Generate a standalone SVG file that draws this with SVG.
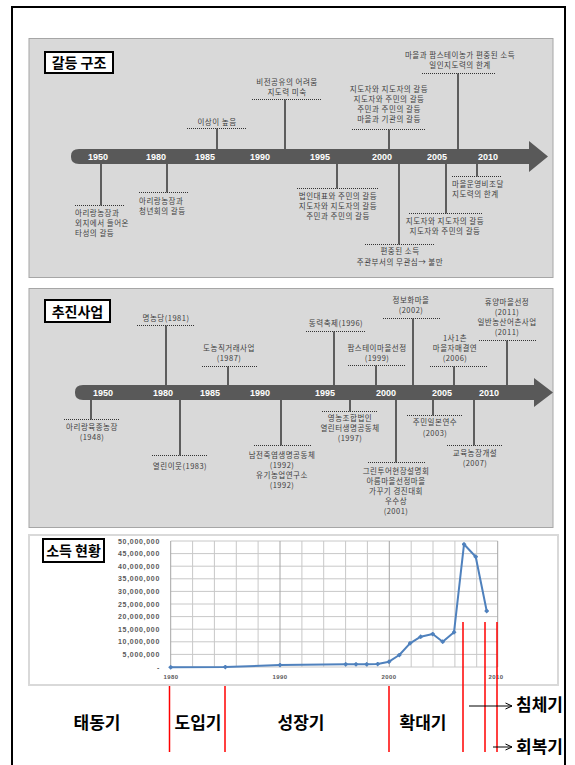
<svg xmlns="http://www.w3.org/2000/svg" width="575" height="765" viewBox="0 0 575 765">
<style>
.panel{fill:#d9d9d9;stroke:#a6a6a6;stroke-width:1}
.tbox{fill:#fff;stroke:#000;stroke-width:2}
.ttl{font-family:'Noto Sans CJK KR',sans-serif;font-weight:bold;font-size:14px;fill:#000}
.bar{fill:#595959}
.yr{font-family:'Liberation Sans',sans-serif;font-weight:bold;font-size:9px;fill:#fff;text-anchor:middle}
.t{font-family:'Noto Sans CJK KR',sans-serif;font-size:7.5px;letter-spacing:0.5px;fill:#404040}
.c{text-anchor:middle}
.dot{stroke:#333;stroke-width:1;stroke-dasharray:1 1;fill:none}
.stem{stroke:#333;stroke-width:1.5;fill:none}
.grid{stroke:#c8c8c8;stroke-width:1}
.gridd{stroke:#a6a6a6;stroke-width:1}
.ylab{font-family:'Liberation Sans',sans-serif;font-weight:bold;font-size:7px;letter-spacing:0.7px;fill:#595959;text-anchor:end}
.xlab{font-family:'Liberation Sans',sans-serif;font-weight:bold;font-size:6px;letter-spacing:0.4px;fill:#595959;text-anchor:middle}
.red{stroke:#ff0000;stroke-width:1.5}
.ph{font-family:'Noto Sans CJK KR',sans-serif;font-weight:bold;font-size:17px;fill:#000}
</style>
<defs>
<marker id="dia" viewBox="-3 -3 6 6" markerWidth="5" markerHeight="5" markerUnits="userSpaceOnUse"><path d="M0,-3 L3,0 L0,3 L-3,0 Z" fill="#4f81bd"/></marker>
<marker id="oa" viewBox="0 0 8 8" refX="7.5" refY="4" markerWidth="8" markerHeight="8" markerUnits="userSpaceOnUse" orient="auto"><path d="M1,1 L7.5,4 L1,7" fill="none" stroke="#000" stroke-width="1"/></marker>
</defs>
<rect x="0" y="0" width="575" height="765" fill="#fff"/>
<rect x="12" y="7" width="553" height="770" fill="none" stroke="#000" stroke-width="2"/>

<!-- Panel 1 -->
<g id="panel-conflict">
<rect class="panel" x="29" y="38.5" width="524" height="239"/>
<rect class="tbox" x="45" y="52" width="68" height="21"/>
<text class="ttl" x="79" y="68" text-anchor="middle">갈등 구조</text>
<path class="bar" d="M79,149 H529 V141 L548,156.5 L529,172 V164 H79 Q71,164 71,157 V156 Q71,149 79,149 Z"/>
<text class="yr" x="98" y="160">1950</text>
<text class="yr" x="156" y="160">1980</text>
<text class="yr" x="205" y="160">1985</text>
<text class="yr" x="260" y="160">1990</text>
<text class="yr" x="320" y="160">1995</text>
<text class="yr" x="382" y="160">2000</text>
<text class="yr" x="437" y="160">2005</text>
<text class="yr" x="488" y="160">2010</text>
</g>

<g id="n-c1985">
<text class="t c" x="217" y="125">이상이 높음</text>
<line class="dot" x1="187" y1="128.5" x2="247" y2="128.5"/>
</g>
<g id="n-c1990">
<text class="t c" x="287" y="85">비전공유의 어려움</text>
<text class="t c" x="287" y="95">지도력 미숙</text>
<line class="dot" x1="252" y1="99.5" x2="322" y2="99.5"/>
</g>
<g id="n-c2000a">
<text class="t c" x="389" y="92">지도자와 지도자의 갈등</text>
<text class="t c" x="389" y="102">지도자와 주민의 갈등</text>
<text class="t c" x="389" y="112">주민과 주민의 갈등</text>
<text class="t c" x="389" y="122">마을과 기관의 갈등</text>
<line class="dot" x1="352" y1="129.5" x2="425" y2="129.5"/>
</g>
<g id="n-c2007">
<text class="t c" x="460" y="58">마을과 팜스테이농가 편중된 소득</text>
<text class="t c" x="460" y="68">일인지도력의 한계</text>
<line class="dot" x1="422" y1="73.5" x2="495" y2="73.5"/>
</g>
<g id="n-c1950">
<line class="dot" x1="75" y1="205.5" x2="125" y2="205.5"/>
<text class="t" x="75" y="216">아리랑농장과</text>
<text class="t" x="75" y="226">외지에서 들어온</text>
<text class="t" x="75" y="236">타성의 갈등</text>
</g>
<g id="n-c1980">
<line class="dot" x1="139" y1="192.5" x2="189" y2="192.5"/>
<text class="t" x="139" y="204">아리랑농장과</text>
<text class="t" x="139" y="214">청년회의 갈등</text>
</g>
<g id="n-c1995">
<line class="dot" x1="297" y1="188.5" x2="379" y2="188.5"/>
<text class="t c" x="338" y="199">법인대표와 주민의 갈등</text>
<text class="t c" x="338" y="209">지도자와 지도자의 갈등</text>
<text class="t c" x="338" y="219">주민과 주민의 갈등</text>
</g>
<g id="n-c2000b">
<line class="dot" x1="365" y1="244.5" x2="435" y2="244.5"/>
<text class="t c" x="400" y="254">편중된 소득</text>
<text class="t c" x="400" y="265">주관부서의 무관심→ 불만</text>
</g>
<g id="n-c2005">
<line class="dot" x1="409" y1="213.5" x2="482" y2="213.5"/>
<text class="t c" x="445" y="224">지도자와 지도자의 갈등</text>
<text class="t c" x="445" y="234">지도자와 주민의 갈등</text>
</g>
<g id="n-c2010">
<line class="dot" x1="452" y1="176.5" x2="502" y2="176.5"/>
<text class="t" x="452" y="187">마을운영비조달</text>
<text class="t" x="452" y="197">지도력의 한계</text>
</g>

<!-- Panel 2 -->
<g id="panel-projects">
<rect class="panel" x="29" y="288.5" width="524" height="239"/>
<rect class="tbox" x="45" y="300" width="65" height="22"/>
<text class="ttl" x="77.5" y="316.5" text-anchor="middle">추진사업</text>
<path class="bar" d="M83,385 H534 V378 L553,392.5 L534,407 V400 H83 Q75,400 75,393 V392 Q75,385 83,385 Z"/>
<text class="yr" x="103" y="396">1950</text>
<text class="yr" x="163" y="396">1980</text>
<text class="yr" x="210" y="396">1985</text>
<text class="yr" x="260" y="396">1990</text>
<text class="yr" x="325" y="396">1995</text>
<text class="yr" x="386" y="396">2000</text>
<text class="yr" x="442" y="396">2005</text>
<text class="yr" x="489" y="396">2010</text>
</g>

<g id="n-p1981">
<text class="t c" x="166" y="321">명농당(1981)</text>
<line class="dot" x1="137" y1="325.5" x2="194" y2="325.5"/>
</g>
<g id="n-p1987">
<text class="t c" x="229" y="351">도농직거래사업</text>
<text class="t c" x="229" y="361">(1987)</text>
<line class="dot" x1="202" y1="366.5" x2="258" y2="366.5"/>
</g>
<g id="n-p1996">
<text class="t c" x="336" y="326">동력축제(1996)</text>
<line class="dot" x1="306" y1="331.5" x2="365" y2="331.5"/>
</g>
<g id="n-p1999">
<text class="t c" x="377" y="351">팜스테이마을선정</text>
<text class="t c" x="377" y="361">(1999)</text>
<line class="dot" x1="348" y1="365.5" x2="405" y2="365.5"/>
</g>
<g id="n-p2002">
<text class="t c" x="411" y="303">정보화마을</text>
<text class="t c" x="411" y="313">(2002)</text>
<line class="dot" x1="383" y1="318.5" x2="440" y2="318.5"/>
</g>
<g id="n-p2006">
<text class="t c" x="455" y="341">1사1촌</text>
<text class="t c" x="455" y="351">마을자매결연</text>
<text class="t c" x="455" y="361">(2006)</text>
<line class="dot" x1="430" y1="366.5" x2="487" y2="366.5"/>
</g>
<g id="n-p2011">
<text class="t c" x="507" y="305">휴양마을선정</text>
<text class="t c" x="507" y="315">(2011)</text>
<text class="t c" x="507" y="325">일반농산어촌사업</text>
<text class="t c" x="507" y="335">(2011)</text>
<line class="dot" x1="479" y1="340.5" x2="537" y2="340.5"/>
</g>
<g id="n-p1948">
<line class="dot" x1="64" y1="419.5" x2="120" y2="419.5"/>
<text class="t c" x="92" y="430">아리랑육종농장</text>
<text class="t c" x="92" y="440">(1948)</text>
</g>
<g id="n-p1983">
<line class="dot" x1="152" y1="455.5" x2="208" y2="455.5"/>
<text class="t c" x="180" y="469">열린이웃(1983)</text>
</g>
<g id="n-p1992">
<line class="dot" x1="254" y1="445.5" x2="312" y2="445.5"/>
<text class="t c" x="282" y="458">남전죽염생명공동체</text>
<text class="t c" x="282" y="468">(1992)</text>
<text class="t c" x="282" y="478">유기농업연구소</text>
<text class="t c" x="282" y="488">(1992)</text>
</g>
<g id="n-p1997">
<line class="dot" x1="322" y1="411.5" x2="378" y2="411.5"/>
<text class="t c" x="350" y="421">영농조합법인</text>
<text class="t c" x="350" y="431">열린터생명공동체</text>
<text class="t c" x="350" y="441">(1997)</text>
</g>
<g id="n-p2001">
<line class="dot" x1="368" y1="462.5" x2="425" y2="462.5"/>
<text class="t c" x="396" y="474">그린투어현장설명회</text>
<text class="t c" x="396" y="484">아름마을선정마을</text>
<text class="t c" x="396" y="494">가꾸기 경진대회</text>
<text class="t c" x="396" y="504">우수상</text>
<text class="t c" x="396" y="514">(2001)</text>
</g>
<g id="n-p2003">
<line class="dot" x1="407" y1="415.5" x2="463" y2="415.5"/>
<text class="t c" x="435" y="425">주민일본연수</text>
<text class="t c" x="435" y="436">(2003)</text>
</g>
<g id="n-p2007">
<line class="dot" x1="447" y1="445.5" x2="503" y2="445.5"/>
<text class="t c" x="475" y="456">교육농장개설</text>
<text class="t c" x="475" y="466">(2007)</text>
</g>

<!-- connectors -->
<g id="connectors">
<line class="stem" x1="217" y1="128.5" x2="217" y2="149"/>
<line class="stem" x1="285" y1="99.5" x2="285" y2="149"/>
<line class="stem" x1="389" y1="129.5" x2="389" y2="149"/>
<line class="stem" x1="458" y1="73.5" x2="458" y2="149"/>
<line class="stem" x1="101" y1="164" x2="101" y2="205.5"/>
<line class="stem" x1="167" y1="164" x2="167" y2="192.5"/>
<line class="stem" x1="337" y1="164" x2="337" y2="188.5"/>
<line class="stem" x1="399" y1="164" x2="399" y2="244.5"/>
<line class="stem" x1="446" y1="164" x2="446" y2="213.5"/>
<line class="stem" x1="477" y1="164" x2="477" y2="176.5"/>

<line class="stem" x1="166" y1="325.5" x2="166" y2="385"/>
<line class="stem" x1="228" y1="366.5" x2="228" y2="385"/>
<line class="stem" x1="334" y1="331.5" x2="334" y2="385"/>
<line class="stem" x1="376" y1="365.5" x2="376" y2="385"/>
<line class="stem" x1="413" y1="318.5" x2="413" y2="385"/>
<line class="stem" x1="454" y1="366.5" x2="454" y2="385"/>
<line class="stem" x1="507" y1="340.5" x2="507" y2="385"/>
<line class="stem" x1="91" y1="400" x2="91" y2="419.5"/>
<line class="stem" x1="180" y1="400" x2="180" y2="455.5"/>
<line class="stem" x1="281" y1="400" x2="281" y2="445.5"/>
<line class="stem" x1="350" y1="400" x2="350" y2="411.5"/>
<line class="stem" x1="396" y1="400" x2="396" y2="462.5"/>
<line class="stem" x1="433" y1="400" x2="433" y2="415.5"/>
<line class="stem" x1="474" y1="400" x2="474" y2="445.5"/>
</g>

<!-- Panel 3 : income chart -->
<g id="panel-income">
<rect x="29" y="535" width="529" height="150" fill="#fff" stroke="#d9d9d9" stroke-width="2"/>
<rect class="tbox" x="43" y="539" width="61" height="23"/>
<text class="ttl" x="73.5" y="556" text-anchor="middle">소득 현황</text>
<g id="grid">
<line class="grid" x1="170.7" y1="541" x2="497.7" y2="541"/>
<line class="grid" x1="170.7" y1="553.6" x2="497.7" y2="553.6"/>
<line class="grid" x1="170.7" y1="566.2" x2="497.7" y2="566.2"/>
<line class="grid" x1="170.7" y1="578.8" x2="497.7" y2="578.8"/>
<line class="grid" x1="170.7" y1="591.4" x2="497.7" y2="591.4"/>
<line class="grid" x1="170.7" y1="604" x2="497.7" y2="604"/>
<line class="grid" x1="170.7" y1="616.6" x2="497.7" y2="616.6"/>
<line class="grid" x1="170.7" y1="629.2" x2="497.7" y2="629.2"/>
<line class="grid" x1="170.7" y1="641.8" x2="497.7" y2="641.8"/>
<line class="grid" x1="170.7" y1="654.4" x2="497.7" y2="654.4"/>
<line class="grid" x1="170.7" y1="667" x2="497.7" y2="667"/>
<line class="gridd" x1="170.7" y1="541" x2="170.7" y2="667"/>
<line class="grid" x1="192.6" y1="541" x2="192.6" y2="667"/>
<line class="grid" x1="214.4" y1="541" x2="214.4" y2="667"/>
<line class="grid" x1="236.3" y1="541" x2="236.3" y2="667"/>
<line class="grid" x1="258.1" y1="541" x2="258.1" y2="667"/>
<line class="gridd" x1="280" y1="541" x2="280" y2="667"/>
<line class="grid" x1="301.9" y1="541" x2="301.9" y2="667"/>
<line class="grid" x1="323.7" y1="541" x2="323.7" y2="667"/>
<line class="grid" x1="345.6" y1="541" x2="345.6" y2="667"/>
<line class="grid" x1="367.4" y1="541" x2="367.4" y2="667"/>
<line class="gridd" x1="389.3" y1="541" x2="389.3" y2="667"/>
<line class="grid" x1="411.2" y1="541" x2="411.2" y2="667"/>
<line class="grid" x1="433" y1="541" x2="433" y2="667"/>
<line class="grid" x1="454.9" y1="541" x2="454.9" y2="667"/>
<line class="grid" x1="476.7" y1="541" x2="476.7" y2="667"/>
<line class="gridd" x1="497.7" y1="541" x2="497.7" y2="667"/>
</g>
<text class="ylab" x="160" y="543.5">50,000,000</text>
<text class="ylab" x="160" y="556.1">45,000,000</text>
<text class="ylab" x="160" y="568.7">40,000,000</text>
<text class="ylab" x="160" y="581.3">35,000,000</text>
<text class="ylab" x="160" y="593.9">30,000,000</text>
<text class="ylab" x="160" y="606.5">25,000,000</text>
<text class="ylab" x="160" y="619.1">20,000,000</text>
<text class="ylab" x="160" y="631.7">15,000,000</text>
<text class="ylab" x="160" y="644.3">10,000,000</text>
<text class="ylab" x="160" y="656.9">5,000,000</text>
<text class="ylab" x="160" y="669.5">-</text>
<text class="xlab" x="171" y="679">1980</text>
<text class="xlab" x="280" y="679">1990</text>
<text class="xlab" x="389" y="679">2000</text>
<text class="xlab" x="496" y="679">2010</text>
<polyline fill="none" stroke="#4f81bd" stroke-width="2" stroke-linejoin="round" marker-start="url(#dia)" marker-mid="url(#dia)" marker-end="url(#dia)" points="170.7,667.3 225.3,667 280,665 345.7,664.3 356,664.3 366.7,664.3 377.7,664 389,661.7 399.3,655 410,643.3 420.7,636.7 432.7,634 442.7,641.7 454,632.3 464,544.3 475.7,556.7 486.7,611"/>
</g>

<g id="periods">
<line class="red" x1="169.5" y1="686" x2="169.5" y2="752"/>
<line class="red" x1="225" y1="686" x2="225" y2="752"/>
<line class="red" x1="389" y1="686" x2="389" y2="752"/>
<line class="red" x1="463" y1="622" x2="463" y2="752"/>
<line class="red" x1="485" y1="622" x2="485" y2="752"/>
<line class="red" x1="497" y1="622" x2="497" y2="752"/>
<text class="ph" x="97" y="729" text-anchor="middle">태동기</text>
<text class="ph" x="198" y="729" text-anchor="middle">도입기</text>
<text class="ph" x="301" y="729" text-anchor="middle">성장기</text>
<text class="ph" x="423" y="729" text-anchor="middle">확대기</text>
<text class="ph" x="516" y="711">침체기</text>
<text class="ph" x="516" y="753">회복기</text>
<line x1="469" y1="706" x2="512" y2="706" stroke="#000" stroke-width="1" marker-end="url(#oa)"/>
<line x1="493" y1="747" x2="512" y2="747" stroke="#000" stroke-width="1" marker-end="url(#oa)"/>
</g>
</svg>
